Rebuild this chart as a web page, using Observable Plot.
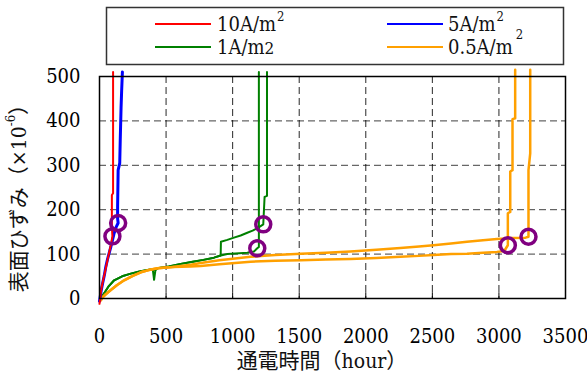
<!DOCTYPE html>
<html>
<head>
<meta charset="utf-8">
<script src="https://cdn.jsdelivr.net/npm/d3@7"></script>
<script src="https://cdn.jsdelivr.net/npm/@observablehq/plot@0.6"></script>
<style>
  html, body { margin: 0; padding: 0; background: #fff; }
  #wrap { position: relative; width: 587px; height: 376px; overflow: hidden; }
  #legend { position: absolute; left: 0; top: 0; }
  svg text { font-family: "DejaVu Serif Condensed", "DejaVu Serif", "Noto Sans CJK JP", serif; font-stretch: condensed; }
</style>
</head>
<body>
<div id="wrap"></div>
<script>
// ---- data (hours, surface strain ×10^-6) ----
const seriesNames = ["10A/m2", "5A/m2", "1A/m2", "0.5A/m2"];
const seriesColors = ["#ff0000", "#0000ff", "#008000", "#ffa000"];

const red10a = [[0,-12],[4,-2],[10,15],[18,28],[28,42],[40,58],[52,75],[64,92],[76,108],[88,125],[97,140],[93,160],[93,233],[102,237],[102,510]];
const blue5a = [[0,-6],[6,5],[14,20],[24,35],[36,52],[47,71],[60,88],[74,104],[85,116],[98,132],[110,147],[124,160],[140,170],[136,180],[136,207],[140,289],[152,305],[156,360],[162,430],[166,465],[172,510]];
const green1a = [[0,-6],[15,3],[40,14],[70,28],[110,41],[170,50],[235,56],[300,61],[360,64],[400,66],[410,42],[420,64],[435,68],[520,72],[610,78],[700,83],[780,87],[860,92],[910,97],[960,100],[1050,102],[1110,103],[1160,106],[1185,113],[1197,116],[1197,510]];
const green1b = [[0,-6],[15,3],[40,14],[70,28],[110,41],[170,50],[235,56],[300,61],[360,64],[400,66],[420,64],[435,68],[520,72],[610,78],[700,83],[780,87],[860,92],[910,97],[912,128],[960,132],[1010,137],[1060,142],[1110,148],[1150,153],[1190,159],[1230,167],[1240,229],[1258,231],[1258,510]];
const orange05a = [[0,-5],[10,-4],[25,3],[45,9],[85,19],[130,30],[185,41],[250,51],[310,59],[370,64],[435,68],[550,71],[685,72],[760,73],[900,77],[1135,83],[1320,85],[1512,86],[1700,88],[1885,89],[2080,91],[2260,94],[2400,96],[2508,98],[2640,100],[2760,101],[2880,103],[2985,105],[3040,107],[3067,120],[3067,192],[3085,195],[3085,286],[3102,289],[3102,404],[3122,406],[3122,515]];
const orange05b = [[0,-5],[10,-4],[25,3],[45,9],[85,19],[130,30],[185,41],[250,51],[310,59],[370,64],[435,68],[550,71],[685,76],[760,80],[900,86],[1135,94],[1320,98],[1512,101],[1700,103],[1885,106],[2080,110],[2260,114],[2400,117],[2508,120],[2640,124],[2760,128],[2880,131],[2985,134],[3100,136],[3200,137],[3222,139],[3222,169],[3222,289],[3235,327],[3235,515]];

const failures = [[97,140],[140,170],[1185,113],[1230,167],[3067,120],[3222,139]];

const xTicks = [0,500,1000,1500,2000,2500,3000,3500];
const yTicks = [0,100,200,300,400,500];
const xGrid = [500,1000,1500,2000,2500,3000];
const yGrid = [100,200,300,400];

// ---- build tables ----
const toRows = (arr, spec) => arr.map(([h, s]) => ({h, s, spec}));
const redRows = toRows(red10a, "r1");
const blueRows = toRows(blue5a, "b1");
const greenRows = [...toRows(green1a, "g1"), ...toRows(green1b, "g2")];
const orangeRows = [...toRows(orange05a, "o1"), ...toRows(orange05b, "o2")];
const failRows = failures.map(([h, s]) => ({h, s}));

const font = '"DejaVu Serif Condensed", "DejaVu Serif", "Noto Sans CJK JP", serif';

const chart = Plot.plot({
  width: 587,
  height: 376,
  marginLeft: 99,
  marginRight: 22,
  marginTop: 76,
  marginBottom: 78,
  x: {domain: [0, 3500]},
  y: {domain: [0, 500]},
  style: {fontFamily: font, fontSize: "20px", color: "black", background: "white", overflow: "visible"},
  marks: [
    Plot.ruleX(xGrid, {stroke: "#000", strokeWidth: 1, strokeDasharray: "7,4", strokeOpacity: 0.85}),
    Plot.ruleY(yGrid, {stroke: "#000", strokeWidth: 1, strokeDasharray: "7,4", strokeOpacity: 0.75}),
    Plot.ruleX(xGrid, {y1: 0, y2: 13, stroke: "#000", strokeWidth: 1}),
    Plot.line(greenRows, {x: "h", y: "s", z: "spec", stroke: seriesColors[2], strokeWidth: 2, clip: false}),
    Plot.line(orangeRows, {x: "h", y: "s", z: "spec", stroke: seriesColors[3], strokeWidth: 2.5, clip: false}),
    Plot.line(blueRows, {x: "h", y: "s", z: "spec", stroke: seriesColors[1], strokeWidth: 3, clip: false}),
    Plot.line(redRows, {x: "h", y: "s", z: "spec", stroke: seriesColors[0], strokeWidth: 2, clip: false}),
    Plot.dot(failRows, {x: "h", y: "s", r: 7.5, stroke: "#800080", strokeWidth: 3.5, fill: "none"}),
    Plot.frame({stroke: "#000", strokeWidth: 1.5}),
    Plot.axisX({ticks: xTicks, tickSize: 0, tickPadding: 30, label: null, fontSize: 20, tickFormat: d => String(d)}),
    Plot.axisY({ticks: yTicks, tickSize: 0, tickPadding: 19, label: null, fontSize: 20, tickFormat: d => String(d)})
  ]
});

const wrap = document.getElementById("wrap");
wrap.appendChild(chart);

// axis titles
const svg = d3.select(chart);
svg.append("text")
  .attr("x", 322).attr("y", 368)
  .attr("text-anchor", "middle")
  .style("font-size", "21px").attr("fill", "#111")
  .text("通電時間（hour）");

const yt = svg.append("text")
  .attr("transform", "translate(19,193) rotate(-90)")
  .attr("text-anchor", "middle")
  .attr("dominant-baseline", "central")
  .style("font-size", "21px").attr("fill", "#111");
yt.append("tspan").text("表面ひずみ（×10");
yt.append("tspan").attr("dy", -9).style("font-size", "13px").text("-6");
yt.append("tspan").attr("dy", 9).text("）");

// legend
const leg = d3.select(wrap).append("svg")
  .attr("id", "legend").attr("width", 587).attr("height", 76);
leg.append("rect").attr("x", 106.5).attr("y", 7.5).attr("width", 457).attr("height", 57)
  .attr("fill", "#fff").attr("stroke", "#333").attr("stroke-width", 1.5);
const legPos = [
  {lx: 155, ly: 24, tx: 217, ty: 31, supDx: 1, supDy: -10, supSize: 13},
  {lx: 387, ly: 24, tx: 448, ty: 31, supDx: 1, supDy: -10, supSize: 13},
  {lx: 155, ly: 47, tx: 217, ty: 54, supDx: 0, supDy: 0, supSize: 17},
  {lx: 387, ly: 47, tx: 448, ty: 54, supDx: 3, supDy: -15, supSize: 13}
];
seriesNames.forEach((name, i) => {
  const p = legPos[i];
  leg.append("line").attr("x1", p.lx).attr("x2", p.lx + 56).attr("y1", p.ly).attr("y2", p.ly)
    .attr("stroke", seriesColors[i]).attr("stroke-width", 2);
  const t = leg.append("text").attr("x", p.tx).attr("y", p.ty)
    .style("font-size", "20px").attr("fill", "#111");
  t.append("tspan").text(name.slice(0, -1));
  t.append("tspan").attr("dx", p.supDx).attr("dy", p.supDy).style("font-size", p.supSize + "px").text(name.slice(-1));
});
</script>
</body>
</html>
